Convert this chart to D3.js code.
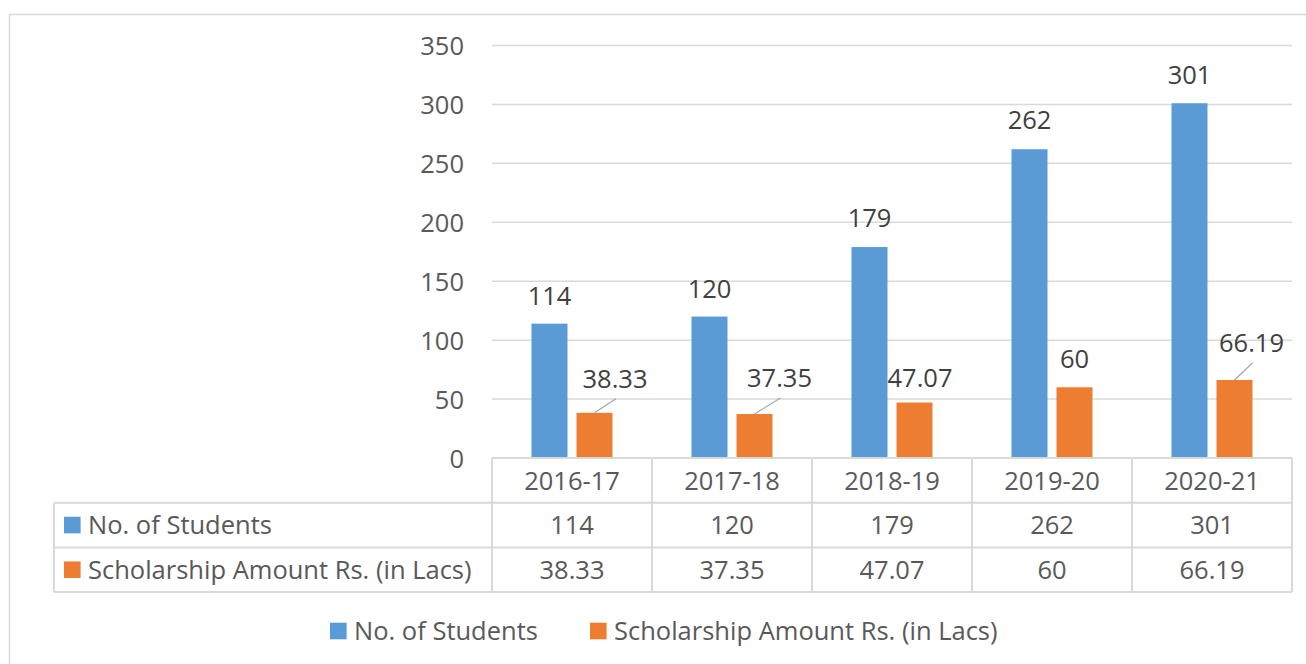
<!DOCTYPE html>
<html>
<head>
<meta charset="utf-8">
<script src="https://cdn.jsdelivr.net/npm/d3@7"></script>
<style>
  html, body { margin: 0; padding: 0; background: #fff; }
  svg { display: block; }
  text { font-family: 'Open Sans', 'Noto Sans', sans-serif; }
</style>
</head>
<body>
<svg id="chart" width="1306" height="664"></svg>
<script>
// Datos
const categories = ['2016-17', '2017-18', '2018-19', '2019-20', '2020-21'];
const seriesNames = ['No. of Students', 'Scholarship Amount Rs. (in Lacs)'];
const students = [114, 120, 179, 262, 301];
const scholarship = [38.33, 37.35, 47.07, 60, 66.19];
const yTicks = [0, 50, 100, 150, 200, 250, 300, 350];

const config = {
  colors: ['#5B9BD5', '#ED7D31'],
  grid: '#d9d9d9',
  axisText: '#595959',
  labelText: '#404040',
  leader: '#a6a6a6',
  fontSize: 25.5,
  plot: { left: 492, right: 1292, top: 45.5, bottom: 458 },
  rowH: 44.7,
  tableLeft: 54,
  // desplazamiento de las etiquetas (dx, gap sobre la barra) por serie
  labelShift: [
    [[0, 19], [0, 19], [0, 20], [0, 20], [0, 19]],
    [[20.5, 25], [25, 27], [5.5, 16], [0, 19.5], [17, 28]]
  ],
  legend: { x: 330, y: 631, itemGap: 260 }
};

const values = [students, scholarship];
const svg = d3.select('#chart');
const p = config.plot;

// borde exterior
svg.append('rect')
  .attr('x', 9.5).attr('y', 14.5)
  .attr('width', 1400).attr('height', 700)
  .attr('fill', 'none')
  .attr('stroke', config.grid)
  .attr('stroke-width', 1.5);

// Escalas
const x0 = d3.scaleBand().domain(categories).range([p.left, p.right]);
const x1 = d3.scaleBand().domain([0, 1]).range([0, x0.bandwidth()])
  .paddingInner(0.2).paddingOuter(0.878);
const y = d3.scaleLinear().domain([0, 350]).range([p.bottom, p.top]);

// rejilla
svg.append('g')
  .selectAll('line')
  .data(yTicks.slice(1))
  .join('line')
  .attr('x1', p.left).attr('x2', p.right)
  .attr('y1', d => y(d)).attr('y2', d => y(d))
  .attr('stroke', config.grid)
  .attr('stroke-width', 1.5);

// eje Y
const yAxis = svg.append('g')
  .attr('transform', `translate(${p.left - 28}, 0)`)
  .call(d3.axisLeft(y).tickValues(yTicks).tickSize(0).tickPadding(0));
yAxis.select('.domain').remove();
yAxis.selectAll('text')
  .attr('fill', config.axisText)
  .style('font-size', config.fontSize + 'px')
  .attr('dy', '0.36em');

// barras
const groups = svg.append('g')
  .selectAll('g')
  .data(categories)
  .join('g')
  .attr('transform', d => `translate(${x0(d)}, 0)`);

groups.selectAll('rect')
  .data((c, i) => [0, 1].map(s => ({ s, i, v: values[s][i] })))
  .join('rect')
  .attr('x', d => x1(d.s))
  .attr('width', x1.bandwidth())
  .attr('y', d => y(d.v))
  .attr('height', d => y(0) - y(d.v))
  .attr('fill', d => config.colors[d.s]);

// etiquetas de datos
const labels = [];
categories.forEach((c, i) => {
  [0, 1].forEach(s => {
    const cx = x0(c) + x1(s) + x1.bandwidth() / 2;
    const top = y(values[s][i]);
    const [dx, gap] = config.labelShift[s][i];
    labels.push({ s, i, v: values[s][i], cx, top, lx: cx + dx, ly: top - gap, dx });
  });
});

svg.append('g')
  .selectAll('line')
  .data(labels.filter(d => d.dx > 10))
  .join('line')
  .attr('x1', d => d.cx).attr('y1', d => d.top)
  .attr('x2', d => d.lx + 1).attr('y2', d => d.ly + 11)
  .attr('stroke', config.leader)
  .attr('stroke-width', 1.2);

svg.append('g')
  .selectAll('text')
  .data(labels)
  .join('text')
  .attr('x', d => d.lx)
  .attr('y', d => d.ly)
  .attr('text-anchor', 'middle')
  .attr('fill', config.labelText)
  .style('font-size', config.fontSize + 'px')
  .text(d => d.v);

// tabla de datos
const rowY = [p.bottom, p.bottom + config.rowH, p.bottom + 2 * config.rowH, p.bottom + 3 * config.rowH];
const table = svg.append('g');
const cuts = categories.map(c => x0(c)).concat([p.right]);

table.selectAll('line.v')
  .data(cuts)
  .join('line')
  .attr('class', 'v')
  .attr('x1', d => d).attr('x2', d => d)
  .attr('y1', rowY[0]).attr('y2', rowY[3]);

table.append('line')
  .attr('x1', config.tableLeft).attr('x2', config.tableLeft)
  .attr('y1', rowY[1]).attr('y2', rowY[3]);

table.selectAll('line.h')
  .data(rowY)
  .join('line')
  .attr('class', 'h')
  .attr('x1', (d, i) => i === 0 ? p.left : config.tableLeft)
  .attr('x2', p.right)
  .attr('y1', d => d).attr('y2', d => d);

table.selectAll('line')
  .attr('stroke', config.grid)
  .attr('stroke-width', 2);

const cellText = (txt, cx, row) => table.append('text')
  .attr('x', cx)
  .attr('y', (rowY[row] + rowY[row + 1]) / 2)
  .attr('dy', '0.36em')
  .attr('text-anchor', 'middle')
  .attr('fill', config.axisText)
  .style('font-size', config.fontSize + 'px')
  .text(txt);

categories.forEach((c, i) => {
  const cx = x0(c) + x0.bandwidth() / 2;
  cellText(c, cx, 0);
  cellText(students[i], cx, 1);
  cellText(scholarship[i], cx, 2);
});

seriesNames.forEach((name, s) => {
  const cy = (rowY[s + 1] + rowY[s + 2]) / 2;
  table.append('rect')
    .attr('x', 64).attr('y', cy - 8.3)
    .attr('width', 16.6).attr('height', 16.6)
    .attr('fill', config.colors[s]);
  table.append('text')
    .attr('x', 88)
    .attr('y', cy)
    .attr('dy', '0.36em')
    .attr('fill', config.axisText)
    .style('font-size', config.fontSize + 'px')
    .text(name);
});

// leyenda inferior
const legend = svg.append('g')
  .attr('transform', `translate(${config.legend.x}, ${config.legend.y})`);
seriesNames.forEach((name, s) => {
  const item = legend.append('g').attr('transform', `translate(${s * config.legend.itemGap}, 0)`);
  item.append('rect')
    .attr('x', 0).attr('y', -8.3)
    .attr('width', 16.6).attr('height', 16.6)
    .attr('fill', config.colors[s]);
  item.append('text')
    .attr('x', 24)
    .attr('dy', '0.36em')
    .attr('fill', config.axisText)
    .style('font-size', config.fontSize + 'px')
    .text(name);
});
</script>
</body>
</html>
